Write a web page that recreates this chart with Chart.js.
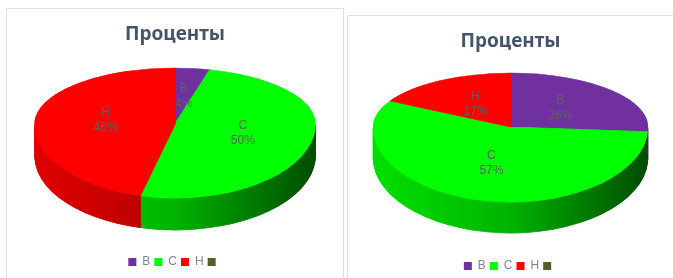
<!DOCTYPE html>
<html><head><meta charset="utf-8">
<script src="https://cdn.jsdelivr.net/npm/chart.js@4"></script>
<style>
html,body{margin:0;padding:0;background:#fff;width:673px;height:278px;overflow:hidden;position:relative}
.panel{position:absolute;border:1px solid #dcdfe3;background:#fff;box-sizing:border-box}
#p1{left:6px;top:8px;width:338px;height:290px}
#p2{left:347px;top:15px;width:340px;height:290px}
canvas{position:absolute}
#c1{left:8px;top:9px}
#c2{left:348px;top:16px}
</style></head><body>
<div class="panel" id="p1"></div>
<div class="panel" id="p2"></div>
<canvas id="c1" width="334" height="269"></canvas>
<canvas id="c2" width="325" height="266"></canvas>
<script>
const chartTitle = 'Проценты';
const categories = ['В', 'С', 'Н', ''];
const leftValues = [4, 50, 46, 0];
const rightValues = [26, 57, 17, 0];
const sliceColors = ['#7030A0', '#00FF00', '#FF0000', '#4F6228'];

function shade(hex, f) {
  const n = parseInt(hex.slice(1), 16);
  const r = (n >> 16) & 255, g = (n >> 8) & 255, b = n & 255;
  return 'rgb(' + Math.round(r * f) + ',' + Math.round(g * f) + ',' + Math.round(b * f) + ')';
}

const tiltPlugin = {
  id: 'tilt',
  beforeDatasetsDraw(chart, args, o) {
    const ctx = chart.ctx;
    const arcs = chart.getDatasetMeta(0).data;
    if (!arcs.length) return;
    const a0 = arcs[0];
    const R = a0.outerRadius;
    const cx = a0.x, cy = Math.round(a0.y + o.shiftY);
    const kx = o.rx / R, kb = o.ryBack / R, kf = o.ryFront / R;
    const W = chart.width, H = chart.height;
    const colors = chart.data.datasets[0].backgroundColor;
    const grads = colors.map(c => {
      const g = ctx.createLinearGradient(a0.x - R, 0, a0.x + R, 0);
      g.addColorStop(0, shade(c, 0.88));
      g.addColorStop(0.5, shade(c, 0.7));
      g.addColorStop(1, shade(c, 0.3));
      return g;
    });
    const drawWith = (arc, color) => {
      const saved = arc.options;
      arc.options = Object.assign({}, saved, {backgroundColor: color, borderColor: color, borderWidth: 1});
      arc.draw(ctx);
      arc.options = saved;
    };
    const half = (dy, ky, front, colorFn) => {
      ctx.save();
      ctx.beginPath();
      if (front) ctx.rect(0, cy + dy, W, H); else ctx.rect(0, 0, W, cy + dy);
      ctx.clip();
      ctx.translate(cx, cy + dy);
      ctx.scale(kx, ky);
      ctx.translate(-a0.x, -a0.y);
      arcs.forEach((arc, i) => { if (arc.circumference > 0) drawWith(arc, colorFn(i)); });
      ctx.restore();
    };
    for (let k = o.depth; k >= 1; k--) half(k, kf, true, i => grads[i]);
    half(0, kb, false, i => colors[i]);
    half(0, kf, true, i => colors[i]);

    const vals = chart.data.datasets[0].data;
    const total = vals.reduce((s, v) => s + v, 0);
    ctx.save();
    ctx.font = '12px "Liberation Sans", Arial, sans-serif';
    ctx.fillStyle = '#606060';
    ctx.textAlign = 'center';
    ctx.textBaseline = 'middle';
    arcs.forEach((arc, i) => {
      if (!(vals[i] > 0)) return;
      const mid = (arc.startAngle + arc.endAngle) / 2;
      const s = Math.sin(mid);
      const lx = cx + o.labelR * o.rx * Math.cos(mid);
      const ly = cy + o.labelR * (s < 0 ? o.ryBack : o.ryFront) * s;
      ctx.fillText(chart.data.labels[i], lx, ly - 7.5);
      ctx.fillText(Math.round(vals[i] / total * 100) + '%', lx, ly + 7.5);
    });
    ctx.restore();
    return false;
  }
};

function makeChart(id, values, geo, legendPad) {
  return new Chart(document.getElementById(id), {
    type: 'pie',
    data: {
      labels: categories,
      datasets: [{ data: values, backgroundColor: sliceColors, borderColor: sliceColors, borderWidth: 0 }]
    },
    plugins: [tiltPlugin],
    options: {
      responsive: false,
      animation: false,
      layout: { padding: { bottom: legendPad } },
      plugins: {
        tooltip: { enabled: false },
        title: {
          display: true, text: chartTitle, color: '#44546A',
          font: { family: '"Noto Sans", "Open Sans", sans-serif', size: 19, weight: 'bold' },
          padding: { top: 14, bottom: 10 }
        },
        legend: {
          position: 'bottom',
          labels: {
            boxWidth: 8, boxHeight: 8, padding: 4, color: '#7b8799',
            font: { family: '"Liberation Sans", Arial, sans-serif', size: 12 }
          }
        },
        tilt: geo
      }
    }
  });
}

makeChart('c1', leftValues, { shiftY: -30, rx: 140, ryBack: 56, ryFront: 74, depth: 32, labelR: 0.5 }, 0);
makeChart('c2', rightValues, { shiftY: -32, rx: 137, ryBack: 54, ryFront: 75, depth: 31, labelR: 0.5 }, 0);
</script>
</body></html>
